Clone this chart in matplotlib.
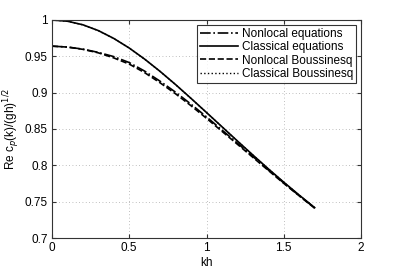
import numpy as np
import matplotlib.pyplot as plt

plt.rcParams['font.family'] = ['Liberation Sans', 'DejaVu Sans']

kh = [0.0, 0.1, 0.2, 0.3, 0.4, 0.5, 0.6, 0.7, 0.8, 0.9,
      1.0, 1.1, 1.2, 1.3, 1.4, 1.5, 1.6, 1.7]

# values
nonlocal_eq = [0.964, 0.9628, 0.9599, 0.9554, 0.9496, 0.9414, 0.9296, 0.9157, 0.9006,
               0.8841, 0.8667, 0.8486, 0.8305, 0.8122, 0.7937, 0.7758, 0.7583, 0.7415]
classical_eq = [1.0, 0.9983, 0.9934, 0.9854, 0.9746, 0.9614, 0.9461, 0.9292, 0.9111,
                0.8921, 0.8727, 0.8531, 0.8335, 0.8142, 0.7952, 0.7768, 0.7590, 0.7418]
nonlocal_bq = [0.964, 0.9627, 0.9596, 0.9548, 0.9478, 0.9393, 0.9275, 0.9135, 0.8984,
               0.8820, 0.8647, 0.8468, 0.8290, 0.8110, 0.7930, 0.7752, 0.7580, 0.7410]
classical_bq = [1.0, 0.9983, 0.9933, 0.9853, 0.9745, 0.9613, 0.9460, 0.9291, 0.9110,
                0.8920, 0.8726, 0.8530, 0.8334, 0.8141, 0.7951, 0.7767, 0.7589, 0.7417]

fig = plt.figure(figsize=(3.99, 2.69), dpi=100)
ax = fig.add_axes([0.1303, 0.1152, 0.7745, 0.8105])

ax.plot(kh, nonlocal_eq, color='k', ls='-.', lw=1.2, label='Nonlocal equations')
ax.plot(kh, classical_eq, color='k', ls='-', lw=1.2, label='Classical equations')
ax.plot(kh, nonlocal_bq, color='k', ls='--', lw=1.2, label='Nonlocal Boussinesq')
ax.plot(kh, classical_bq, color='k', ls=':', lw=1.0, label='Classical Boussinesq')

ax.set_xlim(0, 2)
ax.set_ylim(0.7, 1)
ax.set_xticks([0, 0.5, 1, 1.5, 2])
ax.set_xticklabels(['0', '0.5', '1', '1.5', '2'])
ax.set_yticks([0.7, 0.75, 0.8, 0.85, 0.9, 0.95, 1])
ax.set_yticklabels(['0.7', '0.75', '0.8', '0.85', '0.9', '0.95', '1'])
ax.grid(True, ls=(0, (1, 3)), color='#aaaaaa', lw=0.6)
ax.tick_params(direction='in', top=True, right=True, labelsize=8.5, length=3,
               color='#333333', pad=3)
for s in ax.spines.values():
    s.set_color('#333333')
ax.set_xlabel('kh', fontsize=8.5, labelpad=2)
ax.set_ylabel(r'Re c$_p$(k)/(gh)$^{1/2}$', fontsize=8.5)
ax.yaxis.set_label_coords(-0.098, 0.5)

leg = ax.legend(loc='upper right', fontsize=8.5, frameon=True, fancybox=False,
                edgecolor='k', handlelength=3.2, borderaxespad=0.4,
                labelspacing=0.1, handletextpad=0.3, borderpad=0.3)
leg.get_frame().set_linewidth(0.8)

fig.savefig('out.png', dpi=100)
